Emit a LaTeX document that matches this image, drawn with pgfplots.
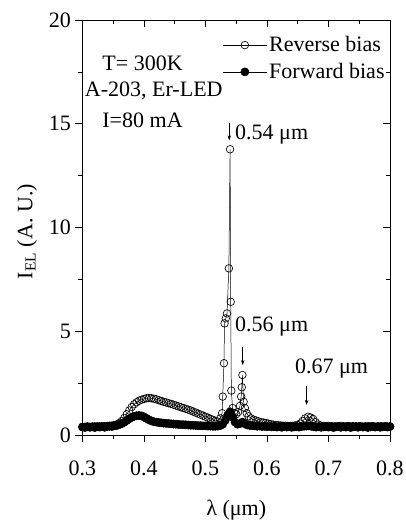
\documentclass[border=0pt]{standalone}
\usepackage{fontspec}
\setmainfont{Liberation Serif}
\usepackage{pgfplots}
\usepackage{pgfplotstable}
\pgfplotsset{compat=1.18}
\usetikzlibrary{arrows.meta}

\pgfplotstableread{
x y
0.300 0.40
0.304 0.40
0.308 0.41
0.312 0.40
0.316 0.41
0.320 0.42
0.324 0.41
0.328 0.42
0.332 0.43
0.336 0.42
0.340 0.44
0.344 0.45
0.348 0.46
0.352 0.48
0.356 0.52
0.360 0.58
0.364 0.68
0.368 0.82
0.372 1.00
0.376 1.18
0.380 1.35
0.384 1.48
0.388 1.58
0.392 1.65
0.396 1.70
0.400 1.74
0.404 1.77
0.408 1.78
0.412 1.77
0.416 1.75
0.420 1.72
0.424 1.68
0.428 1.64
0.432 1.60
0.436 1.57
0.440 1.53
0.444 1.50
0.448 1.46
0.452 1.42
0.456 1.38
0.460 1.34
0.464 1.30
0.468 1.26
0.472 1.22
0.476 1.18
0.480 1.13
0.484 1.08
0.488 1.03
0.492 0.98
0.496 0.93
0.500 0.88
0.504 0.83
0.508 0.78
0.512 0.73
0.516 0.68
0.520 0.65
0.524 0.80
0.527 1.05
0.528 1.85
0.530 3.46
0.531 5.38
0.533 5.62
0.535 5.86
0.538 8.03
0.540 13.77
0.541 6.42
0.542 2.14
0.544 1.30
0.547 1.05
0.550 1.00
0.553 1.10
0.556 1.40
0.558 1.85
0.559 2.30
0.560 2.89
0.562 1.60
0.564 1.30
0.567 1.05
0.570 0.90
0.574 0.80
0.578 0.74
0.582 0.70
0.586 0.66
0.590 0.62
0.594 0.60
0.598 0.58
0.602 0.55
0.606 0.52
0.610 0.50
0.614 0.48
0.618 0.47
0.622 0.46
0.626 0.45
0.630 0.45
0.634 0.44
0.638 0.44
0.642 0.45
0.646 0.46
0.650 0.48
0.654 0.55
0.658 0.68
0.662 0.80
0.667 0.88
0.671 0.84
0.675 0.77
0.679 0.62
0.683 0.50
0.687 0.46
0.691 0.44
0.695 0.43
0.700 0.44
0.705 0.43
0.710 0.42
0.715 0.43
0.720 0.44
0.725 0.42
0.730 0.43
0.735 0.42
0.740 0.43
0.745 0.42
0.750 0.43
0.755 0.41
0.760 0.42
0.765 0.43
0.770 0.42
0.775 0.41
0.780 0.42
0.785 0.43
0.790 0.41
0.795 0.42
0.800 0.42
}\rev

\pgfplotstableread{
x y
0.300 0.38
0.304 0.36
0.308 0.40
0.312 0.37
0.316 0.39
0.320 0.36
0.324 0.40
0.328 0.38
0.332 0.41
0.336 0.37
0.340 0.40
0.344 0.42
0.348 0.41
0.352 0.44
0.356 0.46
0.360 0.50
0.364 0.55
0.368 0.62
0.372 0.70
0.376 0.78
0.380 0.85
0.384 0.90
0.388 0.93
0.392 0.94
0.396 0.92
0.400 0.87
0.404 0.80
0.408 0.73
0.412 0.68
0.416 0.64
0.420 0.62
0.424 0.60
0.428 0.59
0.432 0.57
0.436 0.56
0.440 0.55
0.444 0.54
0.448 0.53
0.452 0.52
0.456 0.51
0.460 0.50
0.464 0.50
0.468 0.49
0.472 0.48
0.476 0.47
0.480 0.47
0.484 0.46
0.488 0.45
0.492 0.45
0.496 0.44
0.500 0.44
0.504 0.43
0.508 0.43
0.512 0.42
0.516 0.42
0.520 0.43
0.524 0.45
0.528 0.52
0.532 0.70
0.536 0.95
0.540 1.12
0.544 0.85
0.548 0.62
0.552 0.52
0.556 0.55
0.560 0.62
0.564 0.54
0.568 0.48
0.572 0.46
0.576 0.45
0.580 0.44
0.584 0.42
0.588 0.43
0.592 0.41
0.596 0.42
0.600 0.40
0.604 0.42
0.608 0.39
0.612 0.41
0.616 0.38
0.620 0.40
0.624 0.37
0.628 0.40
0.632 0.38
0.636 0.41
0.640 0.37
0.644 0.39
0.648 0.40
0.652 0.38
0.656 0.41
0.660 0.42
0.664 0.43
0.668 0.44
0.672 0.42
0.676 0.40
0.680 0.38
0.684 0.40
0.688 0.37
0.692 0.39
0.696 0.41
0.700 0.38
0.704 0.40
0.708 0.36
0.712 0.39
0.716 0.41
0.720 0.37
0.724 0.40
0.728 0.38
0.732 0.41
0.736 0.36
0.740 0.39
0.744 0.40
0.748 0.37
0.752 0.41
0.756 0.38
0.760 0.40
0.764 0.36
0.768 0.39
0.772 0.41
0.776 0.38
0.780 0.40
0.784 0.37
0.788 0.39
0.792 0.41
0.796 0.38
0.800 0.40
}\fwd

\begin{document}
\begin{tikzpicture}
\path[use as bounding box] (-82.5pt,-90pt) rectangle (323.5pt,435pt);
\pgfplotsset{
  common/.style={
    width=307.5pt, height=415pt, scale only axis,
    xmin=0.3, xmax=0.8, ymin=0, ymax=20,
    xtick={0.3,0.4,0.5,0.6,0.7,0.8},
    ytick={0,5,10,15,20},
    minor x tick num=1, minor y tick num=1,
    major tick length=7pt, minor tick length=4pt,
    axis line style={line width=0.8pt},
    every tick/.style={line width=0.7pt, black},
    at={(0,0)}, anchor=south west,
  }
}
\begin{axis}[common,
  tick align=outside, xtick pos=left, ytick pos=left,
  /pgf/number format/assume math mode=true,
  ticklabel style={font=\fontsize{22}{26}\selectfont},
  xticklabel style={/pgf/number format/fixed, /pgf/number format/precision=1, yshift=-15pt},
  yticklabel style={xshift=-1pt},
  xlabel={λ (μm)},
  ylabel={I\textsubscript{EL} (A. U.)},
  every axis x label/.style={at={(axis description cs:0.5,-0.181)}, anchor=center, font=\fontsize{22}{26}\selectfont},
  every axis y label/.style={at={(axis description cs:-0.18,0.49)}, rotate=90, anchor=center, font=\fontsize{22}{26}\selectfont},
  legend style={at={(axis description cs:0.455,0.965)}, anchor=north west,
    draw=none, fill=none, inner sep=0pt, row sep=6pt,
    font=\fontsize{22}{24}\selectfont},
  legend cell align=left,
  legend image code/.code={\draw[mark repeat=2,mark phase=2] plot coordinates {(0pt,0pt) (22pt,0pt) (44pt,0pt)};},
]
\addplot[black, line width=0.5pt, mark=o, mark size=3.8pt,
  mark options={fill=white, line width=0.65pt}] table[x=x,y=y] {\rev};
\addlegendentry{Reverse bias}
\addplot[black, line width=0.5pt, mark=*, mark size=4.1pt,
  mark options={fill=black}] table[x=x,y=y] {\fwd};
\addlegendentry{Forward bias}

\node[anchor=base, font=\fontsize{22}{26}\selectfont] at (axis cs:0.3976,17.59) {T= 300K};
\node[anchor=base, font=\fontsize{22}{26}\selectfont] at (axis cs:0.4159,16.29) {A-203, Er-LED};
\node[anchor=base, font=\fontsize{22}{26}\selectfont] at (axis cs:0.3976,14.84) {I=80 mA};

\node[anchor=base west, inner sep=0pt, font=\fontsize{22}{26}\selectfont] at (axis cs:0.548,14.22) {0.54 μm};
\draw[line width=0.6pt, -{Stealth[length=5pt,width=3.5pt]}] (axis cs:0.5387,15.05) -- (axis cs:0.5387,14.2);
\node[anchor=base west, inner sep=0pt, font=\fontsize{22}{26}\selectfont] at (axis cs:0.548,4.98) {0.56 μm};
\draw[line width=0.6pt, -{Stealth[length=5pt,width=3.5pt]}] (axis cs:0.5605,4.26) -- (axis cs:0.5605,3.37);
\node[anchor=base west, inner sep=0pt, font=\fontsize{22}{26}\selectfont] at (axis cs:0.6455,2.97) {0.67 μm};
\draw[line width=0.5pt, -{Stealth[length=5pt,width=3.5pt]}] (axis cs:0.6645,2.36) -- (axis cs:0.6645,1.45);
\end{axis}
\begin{axis}[common,
  tick align=inside, xtick pos=right, ytick pos=right,
  xticklabels={}, yticklabels={},
]
\end{axis}
\end{tikzpicture}
\end{document}
